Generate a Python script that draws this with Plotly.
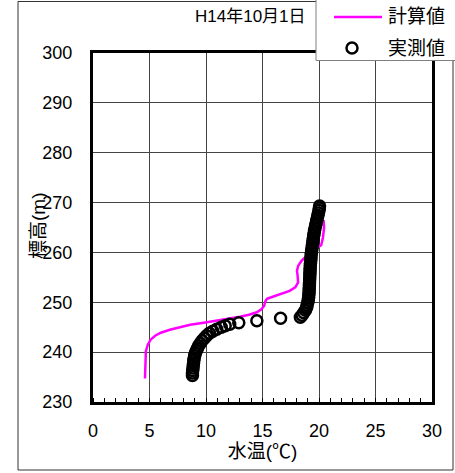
import plotly.graph_objects as go

# ---- data ----
calc_temp = [4.6, 4.62, 4.68, 4.85, 5.1, 5.5, 6.0, 6.8, 7.6, 8.6, 9.8, 11.0, 12.1, 13.0,
             13.8, 14.5, 14.9, 15.15, 15.25, 15.4, 15.9, 16.6, 17.4, 17.9, 18.15, 18.1,
             18.05, 18.15, 18.45, 19.0, 19.6, 20.2, 20.35, 20.45, 20.4]
calc_elev = [234.7, 238.0, 240.2, 241.5, 242.5, 243.3, 243.9, 244.5, 245.0, 245.5, 245.9,
             246.3, 246.7, 247.1, 247.5, 248.0, 248.6, 249.3, 250.2, 250.7, 251.1, 251.6,
             252.3, 253.0, 254.0, 255.5, 256.3, 257.3, 258.3, 259.5, 260.5, 261.5, 263.0,
             265.0, 266.5]

obs_temp = [8.8, 8.8, 8.82, 8.85, 8.87, 8.9, 8.92, 8.95, 9.0, 9.05, 9.15, 9.25, 9.35, 9.5,
            9.65, 9.85, 10.05, 10.3, 10.6, 10.95, 11.35, 11.7, 12.1, 12.9, 14.5, 16.6,
            18.35, 18.5, 18.65, 18.8, 18.9, 18.95, 19.0, 19.05, 19.08, 19.1, 19.12, 19.13,
            19.14, 19.15, 19.16, 19.17, 19.18, 19.19, 19.2, 19.21, 19.22, 19.23, 19.25,
            19.27, 19.29, 19.3, 19.32, 19.35, 19.38, 19.41, 19.44, 19.47, 19.5, 19.53,
            19.57, 19.6, 19.65, 19.7, 19.75, 19.8, 19.85, 19.9, 19.95, 20.0, 20.03, 20.05]
obs_elev = [235.3, 235.8, 236.3, 236.8, 237.3, 237.8, 238.3, 238.8, 239.3, 239.8, 240.3,
            240.8, 241.3, 241.8, 242.3, 242.8, 243.3, 243.8, 244.2, 244.6, 245.0, 245.3,
            245.6, 245.9, 246.3, 246.8, 247.0, 247.4, 247.9, 248.4, 248.9, 249.4, 249.9,
            250.4, 250.9, 251.4, 251.9, 252.4, 252.9, 253.4, 253.9, 254.4, 254.9, 255.4,
            255.9, 256.4, 256.9, 257.4, 257.9, 258.4, 258.9, 259.4, 259.9, 260.4, 260.9,
            261.4, 261.9, 262.4, 262.9, 263.4, 263.9, 264.4, 264.9, 265.4, 265.9, 266.4,
            266.9, 267.4, 267.9, 268.4, 268.9, 269.3]

x_ticks = [0, 5, 10, 15, 20, 25, 30]
y_ticks = [230, 240, 250, 260, 270, 280, 290, 300]
series_names = ["計算値", "実測値"]
chart_title = "H14年10月1日"
x_title = "水温(℃)"
y_title = "標高(m)"

# ---- layout geometry (pixels) ----
W, H = 455, 473
L, R, T, B = 93, 23, 53, 71
PW, PH = W - L - R, H - T - B


def px(x):
    return (x - L) / PW


def py(y):
    return (H - B - y) / PH


FONT = "Liberation Sans, Arial, Noto Sans CJK JP, sans-serif"

fig = go.Figure()
fig.add_trace(go.Scatter(x=calc_temp, y=calc_elev, mode="lines", name=series_names[0],
                         line=dict(color="#FF00FF", width=2.5), showlegend=False))
fig.add_trace(go.Scatter(x=obs_temp, y=obs_elev, mode="markers", name=series_names[1],
                         marker=dict(symbol="circle-open", size=11, color="black",
                                     line=dict(width=2.5, color="black")),
                         showlegend=False))

shapes = [
    # outer frame
    dict(type="rect", xref="paper", yref="paper", x0=px(18), x1=px(453), y0=py(470), y1=py(1.5),
         line=dict(color="#333333", width=1), layer="below"),
    # legend box
    dict(type="rect", xref="paper", yref="paper", x0=px(316), x1=px(470), y0=py(60.5), y1=py(-5),
         line=dict(color="#808080", width=1), fillcolor="white", layer="above"),
    # legend line symbol
    dict(type="line", xref="paper", yref="paper", x0=px(334), x1=px(382), y0=py(17), y1=py(17),
         line=dict(color="#FF00FF", width=2.5)),
    # legend circle symbol
    dict(type="circle", xref="paper", yref="paper", x0=px(346.5), x1=px(357.5), y0=py(53.5), y1=py(42.5),
         line=dict(color="black", width=2.5)),
]

annotations = [
    dict(text=chart_title, xref="paper", yref="paper", x=px(308), y=py(17), xanchor="right",
         yanchor="middle", showarrow=False, font=dict(size=17, color="black", family=FONT)),
    dict(text=series_names[0], xref="paper", yref="paper", x=px(386), y=py(17), xanchor="left",
         yanchor="middle", showarrow=False, font=dict(size=19, color="black", family=FONT)),
    dict(text=series_names[1], xref="paper", yref="paper", x=px(386), y=py(48), xanchor="left",
         yanchor="middle", showarrow=False, font=dict(size=19, color="black", family=FONT)),
    # y-axis title
    dict(text=y_title, xref="paper", yref="paper", x=px(38), y=py(226), xanchor="center",
         yanchor="middle", textangle=-90, showarrow=False,
         font=dict(size=19, color="black", family=FONT)),
]

fig.update_layout(
    width=W, height=H,
    margin=dict(l=L, r=R, t=T, b=B, pad=0),
    paper_bgcolor="white", plot_bgcolor="white",
    font=dict(family=FONT, color="black", size=18),
    shapes=shapes, annotations=annotations,
    xaxis=dict(range=[0, 30], tickvals=x_ticks, ticktext=[str(v) for v in x_ticks],
               showgrid=True, gridcolor="#444444", gridwidth=1,
               showline=True, linecolor="black", linewidth=3, mirror=True,
               ticks="", ticklabelstandoff=10, zeroline=False,
               tickfont=dict(size=18),
               minor=dict(dtick=1, ticks="inside", ticklen=4, tickcolor="black", tickwidth=1,
                          showgrid=False),
               title=dict(text=x_title, font=dict(size=19), standoff=4)),
    yaxis=dict(range=[230, 300], tickvals=y_ticks, ticktext=[str(v) for v in y_ticks],
               showgrid=True, gridcolor="#444444", gridwidth=1,
               showline=True, linecolor="black", linewidth=3, mirror=True,
               ticks="", ticklabelstandoff=14, zeroline=False,
               tickfont=dict(size=18)),
)

fig.write_html("out.html", config={"displayModeBar": False},
               post_script="document.body.style.margin='0';document.body.style.overflow='hidden';")
